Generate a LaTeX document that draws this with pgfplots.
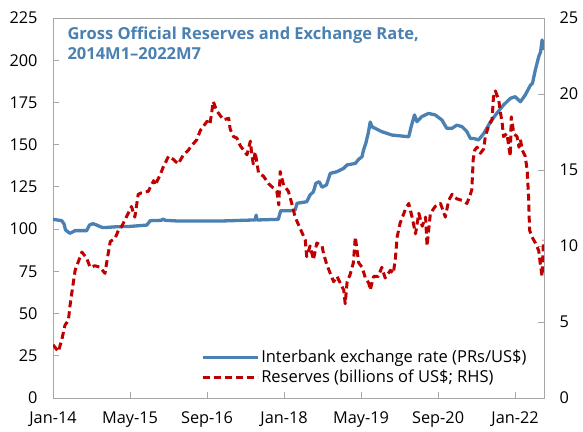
\documentclass[border=0pt]{standalone}
\usepackage{fontspec}
\setmainfont{Open Sans}
\usepackage{pgfplots}
\pgfplotsset{compat=1.18}
\definecolor{rateblue}{RGB}{74,128,178}
\definecolor{resred}{RGB}{192,0,0}
\definecolor{axgrey}{RGB}{166,166,166}

\begin{document}
\begin{tikzpicture}
\pgfplotsset{
  every axis/.append style={
    scale only axis, width=491bp, height=380bp,
    xmin=0, xmax=102,
    tick align=inside, major tick length=6bp,
    every tick/.style={axgrey, line width=0.8bp},
    axis line style={axgrey, line width=0.8bp},
    tick label style={font=\fontsize{16.3bp}{19bp}\selectfont},
    /pgf/number format/assume math mode=true,
  },
}
\begin{axis}[
  ymin=0, ymax=225, ytick={0,25,...,225},
  xtick={0,16,32,48,64,80,96},
  xticklabels={Jan-14,May-15,Sep-16,Jan-18,May-19,Sep-20,Jan-22},
  xtick pos=bottom, ytick pos=left,
  xticklabel style={yshift=-10bp},
  yticklabel style={xshift=-12bp},
]
\addplot[rateblue, line width=3.3bp, line join=round] coordinates {
(0,105.8) (1.8,105.0) (2.3,103) (2.6,99.5) (3.5,97.5) (4.6,99.1) (7.0,99.1)
(7.6,102.5) (8.3,103.2) (9,102.5) (10.2,101) (11.2,101) (13.2,101.4) (16,101.6)
(19.5,102.4) (20.2,105) (22.5,105.2) (22.9,106) (23.3,105.2) (26,104.8) (30,104.8)
(35,104.8) (41.6,105.4) (42.0,105.4) (42.2,108.3) (42.4,105.4) (46.8,105.8)
(47.3,110.9) (49.3,110.9) (50.3,111.3) (50.7,115.3) (52.7,116.2) (53.4,120.2)
(54.1,122.1) (54.6,127.1) (55.3,128.1) (55.9,124.8) (56.8,126.1) (57.6,133)
(59.0,134) (60.4,136) (61.1,138) (62.8,138.9) (63.5,141.3) (64.2,142.9)
(64.5,146.8) (65.0,151) (65.5,157) (65.9,163.4) (66.3,160.5) (66.9,159.7)
(68.3,157.7) (70.4,155.7) (73.9,154.7) (74.4,160.6) (75.1,167.6) (75.6,163.6)
(76.6,166.6) (78.0,168.5) (79.4,167.6) (80.8,164.6) (81.8,159.7) (82.9,159.7)
(83.9,161.6) (85.0,160.6) (86.0,157.7) (86.7,153.7) (87.4,153.7) (88.4,152.8)
(89.5,156.7) (90.9,163.6) (92.2,168.6) (93.6,173.5) (95.0,177.4) (96.0,178.4)
(97.1,175.4) (98.1,179.4) (99.2,185.3) (99.6,186.3) (100.2,194.2) (100.9,202.1)
(101.3,205) (101.6,212) (101.9,206)
};
\end{axis}
\begin{axis}[
  ymin=0, ymax=25, ytick={0,5,...,25},
  hide x axis, axis y line*=right,
  yticklabel style={xshift=12bp},
  legend style={at={(rel axis cs:0.975,0.025)}, anchor=south east, draw=none, fill=none,
    font=\fontsize{16.5bp}{19bp}\selectfont, row sep=2bp,
    /tikz/every even column/.append style={column sep=0bp}},
  legend cell align=left,
  legend image code/.code={\draw[#1] (0bp,0bp) -- (55bp,0bp);},
]
\addlegendimage{rateblue, line width=3.3bp}
\addlegendentry{Interbank exchange rate (PRs/US\$)}
\addplot[resred, line width=3bp, dash pattern=on 7bp off 4bp, line join=round] coordinates {
(0,3.5) (0.5,3.3) (1.1,3.05) (1.8,3.8) (2.5,4.8) (3.2,5.1) (3.5,6.0) (3.9,6.9)
(4.6,8.4) (5.3,9.0) (6.0,9.6) (7.0,9.2) (7.7,8.6) (8.7,8.7) (9.8,8.6) (10.8,8.2)
(11.2,9.0) (11.9,10.3) (12.9,10.5) (13.6,11.05) (14.3,11.3) (15.7,12.2) (16.3,12.6)
(17.0,11.9) (17.7,13.4) (18.4,13.5) (19.8,13.6) (20.9,14.3) (21.2,14.0) (22.3,14.7)
(22.9,15.2) (24.0,15.9) (25.0,15.7) (26.0,15.4) (27.1,16.0) (28.1,16.3) (28.8,16.6)
(29.9,17.0) (30.6,17.6) (32.0,18.2) (32.6,18.0) (33.3,19.5) (34.0,18.9) (34.7,18.6)
(35.4,18.3) (36.5,18.4) (36.8,17.7) (37.5,17.2) (38.2,17.1) (38.9,16.6) (39.6,16.3)
(40.3,16.0) (41.0,16.9) (41.3,16.0) (41.6,15.4) (42.0,16.2) (42.7,14.8) (43.7,14.6)
(44.8,14.1) (45.8,13.8) (46.5,13.6) (46.9,12.7) (47.2,14.9) (47.9,14.0) (48.9,13.6)
(49.6,12.8) (50.3,11.9) (51.0,11.4) (51.7,10.9) (52.4,10.4) (52.7,9.3) (53.4,10.0)
(54.1,9.1) (54.8,10.2) (55.9,10.0) (56.2,9.5) (56.9,8.75) (57.6,8.2) (58.3,7.65)
(59.0,8.0) (59.7,7.55) (60.4,7.1) (60.7,6.2) (61.1,7.65) (61.7,8.1) (62.4,8.9)
(62.8,10.6) (63.5,8.9) (64.2,8.6) (64.9,7.9) (65.6,7.55) (65.9,7.1) (66.6,8.0)
(67.6,8.0) (68.3,8.6) (69.0,7.9) (70.1,8.4) (70.7,8.2) (71.1,9.1) (71.5,10.6)
(72.1,11.5) (73.2,12.4) (73.9,12.8) (74.6,11.9) (75.3,10.8) (76.0,12.15) (76.7,11.3)
(77.4,11.9) (77.7,10.0) (78.4,12.15) (79.4,12.6) (80.5,12.8) (81.5,11.9) (82.2,13.0)
(82.9,13.4) (83.9,13.1) (85.0,13.0) (86.0,12.8) (86.7,13.4) (87.0,13.7) (87.3,15.7)
(87.6,16.3) (88.1,16.5) (88.8,16.1) (89.5,16.4) (89.8,17.2) (90.5,17.9) (91.2,18.3)
(91.5,19.8) (91.9,20.2) (92.6,19.6) (92.9,18.9) (93.3,18.1) (93.6,17.2) (94.3,17.4)
(94.7,16.5) (95.0,15.9) (95.2,18.5) (95.5,17.9) (95.7,17.4) (96.4,17.2) (96.8,16.5)
(97.1,17.0) (97.5,16.3) (98.1,15.9) (98.5,15.0) (98.8,13.2) (99.0,11.05) (99.5,10.6)
(100.2,10.2) (100.9,9.7) (101.2,8.9) (101.6,8.0) (101.9,10.4)
};
\addlegendentry{Reserves (billions of US\$; RHS)}
\node[anchor=north west, align=left, text=rateblue,
  font=\fontsize{16.5bp}{20bp}\selectfont\bfseries]
  at ([xshift=11bp,yshift=-5bp]rel axis cs:0,1)
  {Gross Official Reserves and Exchange Rate,\\2014M1–2022M7};
\end{axis}
\pgfresetboundingbox
\path[use as bounding box] ([xshift=-53bp,yshift=-34bp]current axis.south west)
  rectangle ([xshift=39bp,yshift=18bp]current axis.north east);
\end{tikzpicture}
\end{document}
